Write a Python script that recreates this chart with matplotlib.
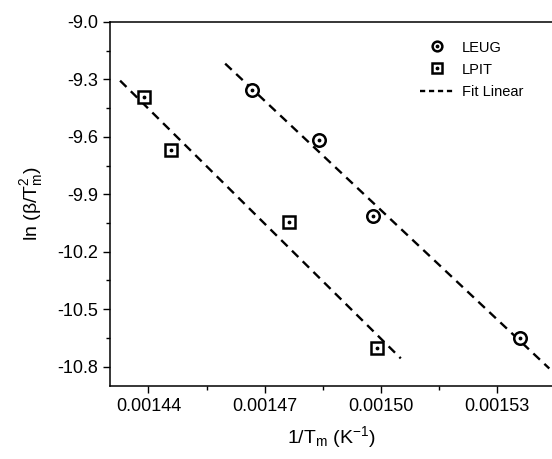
import numpy as np
import matplotlib
matplotlib.use('Agg')
import matplotlib.pyplot as plt
from matplotlib.lines import Line2D
from matplotlib.ticker import MultipleLocator

plt.rcParams['font.family'] = ['Liberation Sans', 'DejaVu Sans']
plt.rcParams['mathtext.default'] = 'regular'

# data
leug_x = np.array([0.0014668, 0.0014839, 0.0014979, 0.0015359])
leug_y = np.array([-9.357, -9.619, -10.011, -10.651])
lpit_x = np.array([0.0014389, 0.0014459, 0.0014762, 0.0014989])
lpit_y = np.array([-9.394, -9.670, -10.044, -10.705])

# x span of each drawn fit line
leug_fit_span = [0.0014598, 0.0015434]
lpit_fit_span = [0.0014327, 0.0015051]


def main():
    fig = plt.figure(figsize=(5.52, 4.59), dpi=100)
    ax = fig.add_axes([0.1993, 0.1597, 0.8007, 0.7924])

    for xs, ys, span in [(leug_x, leug_y, leug_fit_span), (lpit_x, lpit_y, lpit_fit_span)]:
        k, b = np.polyfit(xs, ys, 1)
        fx = np.array(span)
        ax.plot(fx, k * fx + b, color='black', lw=1.7, dashes=(3.8, 2.6), zorder=2)

    mstyle = dict(ls='none', mfc='white', mec='black', mew=1.8, ms=9, zorder=3)
    dstyle = dict(ls='none', marker='.', color='black', ms=3.5, zorder=4)
    ax.plot(leug_x, leug_y, marker='o', **mstyle)
    ax.plot(leug_x, leug_y, **dstyle)
    ax.plot(lpit_x, lpit_y, marker='s', **mstyle)
    ax.plot(lpit_x, lpit_y, **dstyle)

    ax.set_xlim(0.0014301, 0.0015441)
    ax.set_ylim(-10.9, -9.0)
    ax.xaxis.set_major_locator(MultipleLocator(0.00003))
    ax.xaxis.set_minor_locator(MultipleLocator(0.000015))
    ax.yaxis.set_major_locator(MultipleLocator(0.3))
    ax.yaxis.set_minor_locator(MultipleLocator(0.15))
    ax.xaxis.set_major_formatter(lambda v, p: f'{v:.5f}')
    ax.yaxis.set_major_formatter(lambda v, p: f'{v:.1f}')
    ax.tick_params(which='major', direction='out', length=5, width=1, labelsize=13)
    ax.tick_params(which='minor', direction='out', length=3, width=1)
    ax.spines['right'].set_visible(False)
    for s in ['left', 'bottom', 'top']:
        ax.spines[s].set_linewidth(1.1)

    ax.set_xlabel('1/T$_m$ (K$^{-1}$)', fontsize=14, labelpad=7)
    ax.set_ylabel('ln (β/T$_m^2$)', fontsize=14, labelpad=9)

    h_leug = (Line2D([], [], marker='o', **{**mstyle, 'ms': 7}), Line2D([], [], **dstyle))
    h_lpit = (Line2D([], [], marker='s', **{**mstyle, 'ms': 7}), Line2D([], [], **dstyle))
    h_fit = Line2D([], [], color='black', lw=1.7, dashes=(2.2, 1.6))
    ax.legend([h_leug, h_lpit, h_fit], ['LEUG', 'LPIT', 'Fit Linear'],
              loc='upper right', bbox_to_anchor=(0.965, 0.985), frameon=False,
              fontsize=10.5, handlelength=2.3, labelspacing=0.55, handletextpad=0.6)

    fig.savefig('out.png', dpi=100)


if __name__ == '__main__':
    main()
